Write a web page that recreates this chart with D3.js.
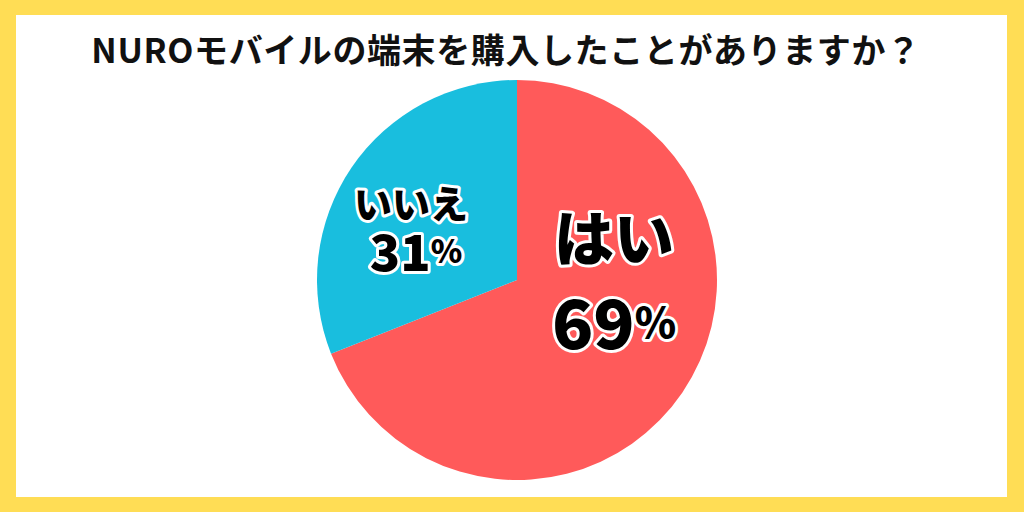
<!DOCTYPE html>
<html><head><meta charset="utf-8">
<script src="https://cdn.jsdelivr.net/npm/d3@7"></script>
<style>html,body{margin:0;padding:0;background:#fff;}svg{display:block;}</style>
</head><body>
<svg id="c" width="1024" height="512"></svg>
<script>
const title = "NUROモバイルの端末を購入したことがありますか？";
const categories = ["はい", "いいえ"];
const values = [69, 31];
const percentLabels = ["69", "31"];
const colors = ["#FF5A5A", "#19BEDE"];

const W = 1024, H = 512;
const svg = d3.select("#c");
const font = "'Noto Sans CJK JP', 'Noto Sans', sans-serif";

// frame
svg.append("rect").attr("width", W).attr("height", H).attr("fill", "#FFDD55");
svg.append("rect").attr("x", 16).attr("y", 15).attr("width", W - 16 - 17).attr("height", H - 15 - 15).attr("fill", "#fff");

// title
svg.append("text").attr("x", 506).attr("y", 48)
  .attr("text-anchor", "middle").attr("dominant-baseline", "central")
  .attr("font-family", font).attr("font-weight", 700).attr("font-size", 34)
  .attr("letter-spacing", 0.6).attr("fill", "#111").text(title);

// pie
const cx = 517, cy = 280, R = 200;
const pie = d3.pie().sort(null).value(d => d)(values);
const arc = d3.arc().innerRadius(0).outerRadius(R);
const g = svg.append("g").attr("transform", `translate(${cx},${cy})`);
g.selectAll("path").data(pie).join("path").attr("d", arc).attr("fill", (d, i) => colors[i]);

// labels
const labelCfg = [
  { name: { dx: 97, dy: -46, size: 60 }, pct: { dx: 97, dy: 39, size: 68, psize: 42 } },
  { name: { dx: -106, dy: -79, size: 38 }, pct: { dx: -101, dy: -31, size: 50, psize: 32 } }
];
function outlined(sel) {
  sel.attr("stroke", "#fff").attr("stroke-width", 6).attr("stroke-linejoin", "round")
     .attr("paint-order", "stroke").attr("fill", "#000");
}
categories.forEach((c, i) => {
  const cfg = labelCfg[i];
  const t1 = g.append("text").attr("x", cfg.name.dx).attr("y", cfg.name.dy)
    .attr("text-anchor", "middle").attr("dominant-baseline", "central")
    .attr("font-family", font).attr("font-weight", 900).attr("font-size", cfg.name.size).text(c);
  outlined(t1);
  const t2 = g.append("text").attr("x", cfg.pct.dx).attr("y", cfg.pct.dy)
    .attr("text-anchor", "middle").attr("dominant-baseline", "central")
    .attr("font-family", font).attr("font-weight", 900).attr("font-size", cfg.pct.size);
  t2.append("tspan").text(percentLabels[i]);
  t2.append("tspan").attr("font-size", cfg.pct.psize).text("%");
  outlined(t2);
});
</script>
</body></html>
